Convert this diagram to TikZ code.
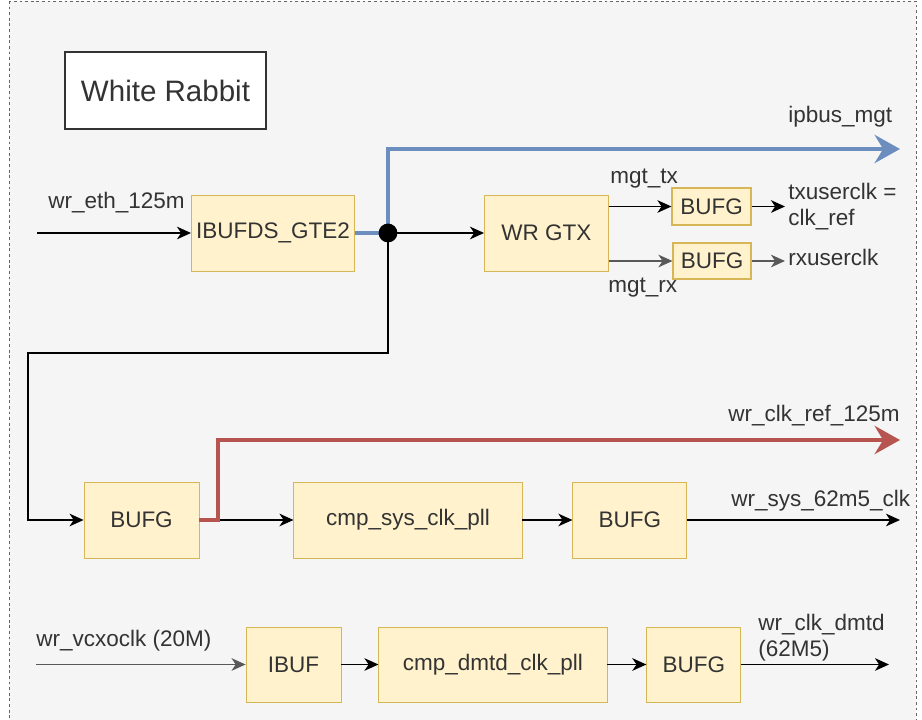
\documentclass[tikz,border=0pt]{standalone}
\usepackage{fontspec}
\setmainfont{Liberation Sans}
\usetikzlibrary{arrows.meta, positioning}
\definecolor{boxfill}{HTML}{FFF2CC}
\definecolor{boxline}{HTML}{D6B656}
\definecolor{busblue}{HTML}{6C8EBF}
\definecolor{busred}{HTML}{B85450}
\definecolor{panel}{HTML}{F5F5F5}
\definecolor{txt}{HTML}{333333}

\begin{document}
\begin{tikzpicture}[
    x=0.025cm, y=-0.025cm,
    node distance=1cm,
    blk/.style={draw=boxline, fill=boxfill, rectangle, semithick, minimum height=1.9cm, align=center, font=\fontsize{16}{19}\selectfont, text=txt},
    lbl/.style={inner sep=0pt, font=\fontsize{16}{18.5}\selectfont, text=txt, align=left},
    wire/.style={-{Stealth[length=10pt,width=9pt,inset=3pt]}, line width=0.9pt},
    bus/.style={-{Stealth[length=18pt,width=20pt,inset=6pt]}, line width=3pt},
    dot/.style={circle, fill=black, inner sep=0pt, minimum size=0.47cm}
]
\useasboundingbox (0,0) rectangle (922,720);
\draw[dashed, dash pattern=on 2pt off 2pt, draw=black!60, fill=panel] (9,1) rectangle (916,760);

\node[draw=txt, fill=white, line width=1pt, minimum width=5.025cm, minimum height=1.925cm, font=\fontsize{21}{25}\selectfont, text=txt] (title) at (165.5,90.5) {White Rabbit};

% ethernet clock row
\node[blk, minimum width=4.05cm] (ibufds) at (273,233) {IBUFDS\_GTE2};
\node[blk, minimum width=3.1cm, right=3.225cm of ibufds] (wrgtx) {WR GTX};
\node[blk, thick, minimum width=1.975cm, minimum height=0.925cm] (bufgtx) at (711.5,206.5) {BUFG};
\node[blk, thick, minimum width=1.95cm, minimum height=0.9cm] (bufgrx) at (712,261) {BUFG};

% system clock row
\node[blk, minimum width=2.875cm] (bufgref) at (141.5,520) {BUFG};
\node[blk, minimum width=5.7cm, right=2.35cm of bufgref] (syspll) {cmp\_sys\_clk\_pll};
\node[blk, minimum width=2.85cm, right=1.25cm of syspll] (bufgsys) {BUFG};

% dmtd clock row
\node[blk, minimum width=2.375cm, minimum height=1.875cm] (ibuf) at (293.5,664.5) {IBUF};
\node[blk, minimum width=5.7cm, minimum height=1.875cm, right=0.925cm of ibuf] (dmtdpll) {cmp\_dmtd\_clk\_pll};
\node[blk, minimum width=2.35cm, minimum height=1.875cm, right=0.975cm of dmtdpll] (bufgdmtd) {BUFG};

\coordinate (ethin) at (37,233);
\coordinate (jn) at (388,233);
\coordinate (ipbusend) at (900,149);
\coordinate (fold) at (28,353);
\coordinate (txend) at (785,206.5);
\coordinate (rxend) at (785,261);
\coordinate (redturn) at (218,520);
\coordinate (refend) at (900,440);
\coordinate (sysend) at (900,520);
\coordinate (vcxoin) at (36,664.5);
\coordinate (dmtdend) at (889,664.5);

\draw[wire] (ethin) -- (ibufds);
\draw[wire] (jn) -- (wrgtx);
\draw[wire] (jn) |- (fold) |- (bufgref.west);
\draw[bus, color=busblue] (ibufds.east) -- (jn) |- (ipbusend);
\node[dot] (jdot) at (jn) {};

\draw[wire] (wrgtx.east |- bufgtx) -- (bufgtx);
\draw[wire, black!65] (wrgtx.east |- bufgrx) -- (bufgrx);
\draw[wire] (bufgtx) -- (txend);
\draw[wire, black!65] (bufgrx) -- (rxend);

\draw[wire] (bufgref) -- (syspll);
\draw[bus, color=busred] (bufgref.east) -- (redturn) |- (refend);
\draw[wire] (syspll) -- (bufgsys);
\draw[wire] (bufgsys) -- (sysend);

\draw[wire, black!65] (vcxoin) -- (ibuf);
\draw[wire] (ibuf) -- (dmtdpll);
\draw[wire] (dmtdpll) -- (bufgdmtd);
\draw[wire] (bufgdmtd) -- (dmtdend);

% labels
\node[lbl, anchor=base west] (ethlbl) at (48,209) {wr\_eth\_125m};
\node[lbl, anchor=base west] (ipbuslbl) at (788,123) {ipbus\_mgt};
\node[lbl, anchor=base west] (txlbl) at (610,184) {mgt\_tx};
\node[lbl, anchor=base west] (rxlbl) at (608,293) {mgt\_rx};
\node[lbl, anchor=base west] (txclk) at (788,226) {txuserclk =\\clk\_ref};
\node[lbl, anchor=base west] (rxclk) at (788,266) {rxuserclk};
\node[lbl, anchor=base west] (reflbl) at (728,422) {wr\_clk\_ref\_125m};
\node[lbl, anchor=base west] (syslbl) at (731,507) {wr\_sys\_62m5\_clk};
\node[lbl, anchor=base west] (vcxolbl) at (36,647) {wr\_vcxoclk (20M)};
\node[lbl, anchor=base west] (dmtdlbl) at (758,657) {wr\_clk\_dmtd\\(62M5)};
\end{tikzpicture}
\end{document}
